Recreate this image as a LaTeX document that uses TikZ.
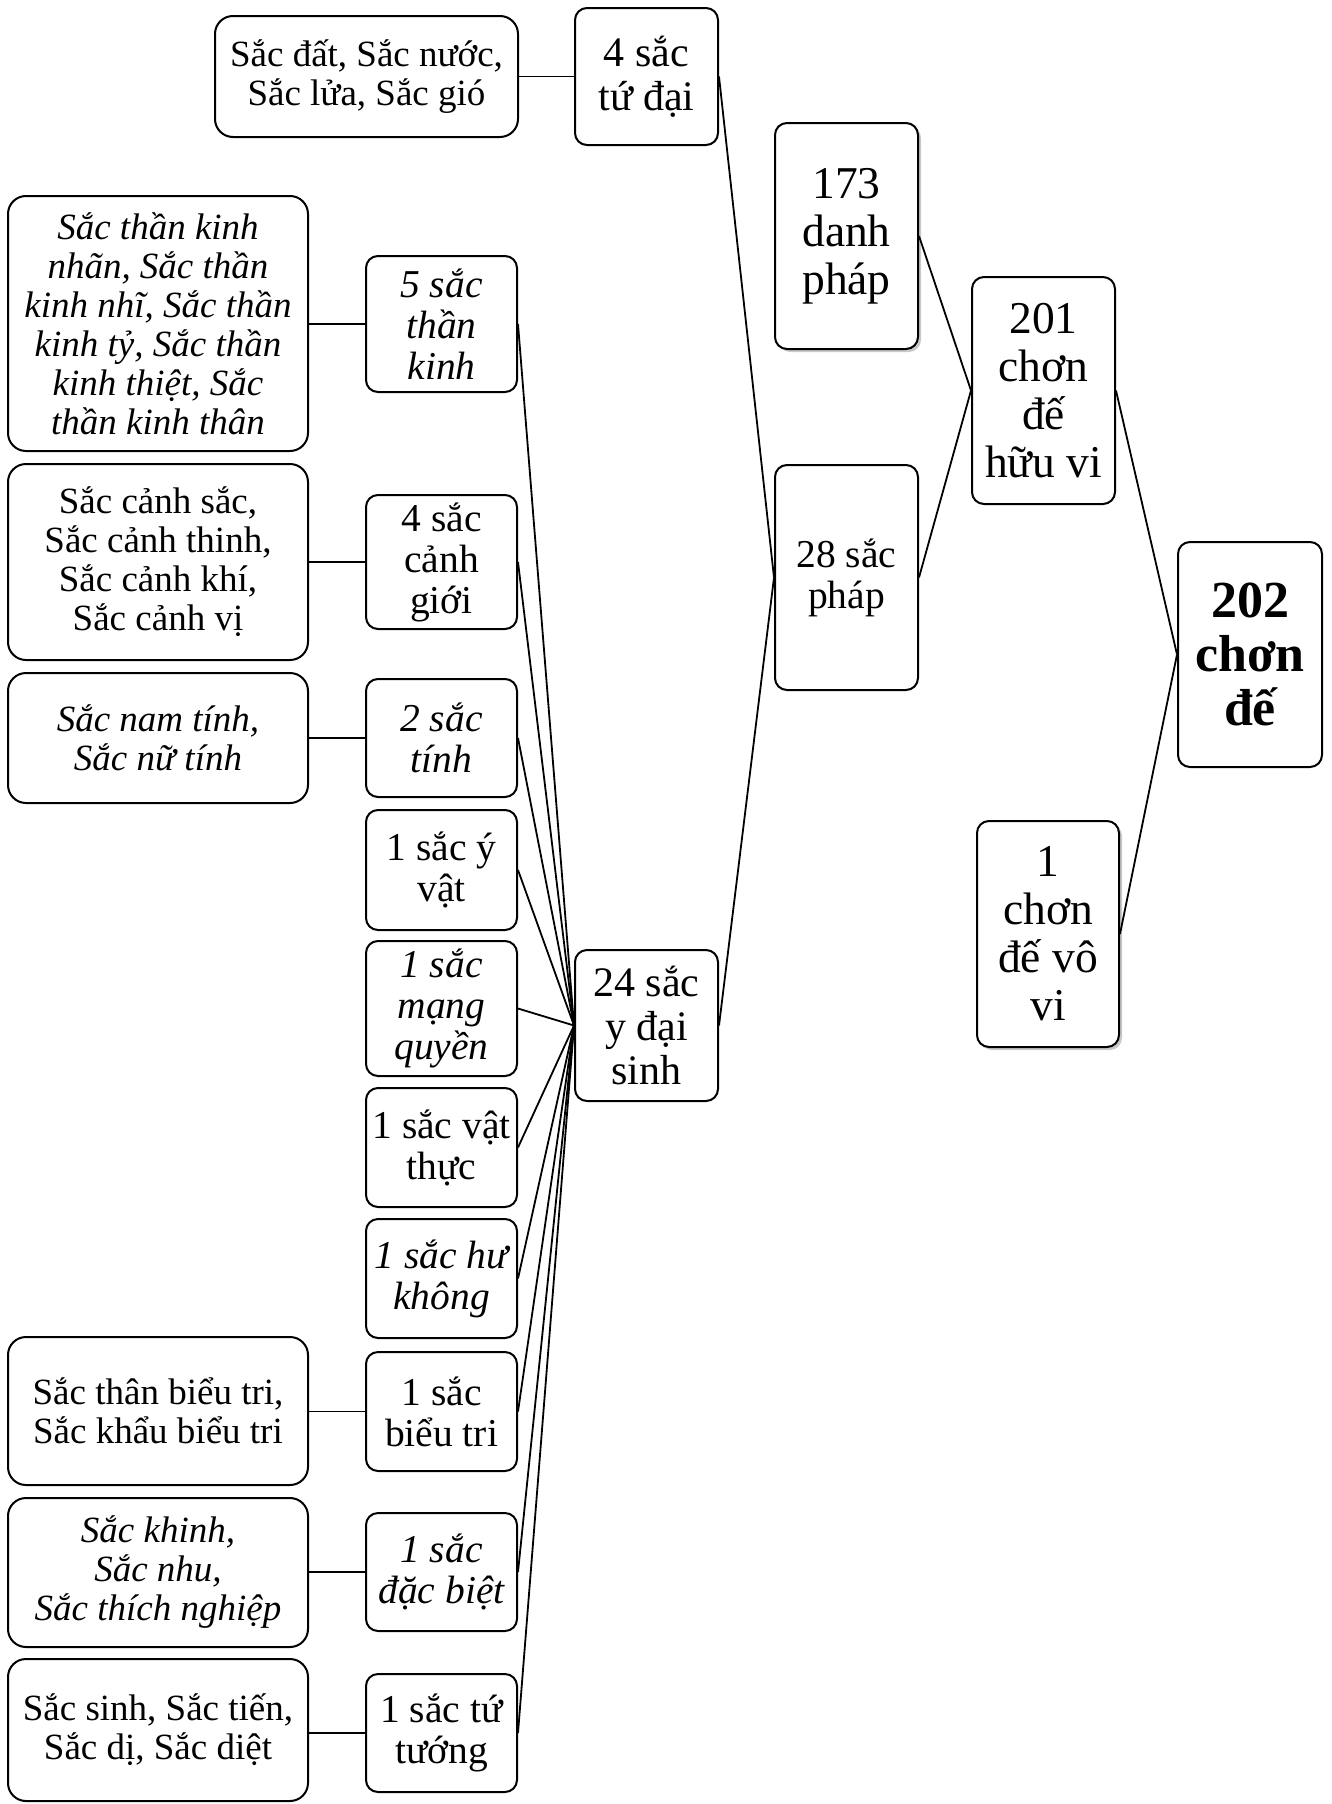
\documentclass[tikz,border=0pt]{standalone}
\usepackage{fontspec}
\setmainfont{Liberation Serif}
\usetikzlibrary{shadows}

\tikzset{
  box/.style={draw, line width=2pt, rounded corners=12pt, fill=white,
              align=center, inner sep=0pt},
  leafbox/.style={box, rounded corners=18pt, minimum width=300pt},
  midbox/.style={box, minimum width=151pt},
  soft/.style={drop shadow={opacity=0.3, shadow xshift=3pt, shadow yshift=-3pt, fill=black!70}},
  slanted/.style={execute at begin node=\itshape},
  link/.style={line width=1.8pt},
  fsleaf/.style={font=\fontsize{37}{39}\selectfont},
  fsmid/.style={font=\fontsize{39.5}{41}\selectfont},
  fsgroup/.style={font=\fontsize{42}{44}\selectfont},
  fsbig/.style={font=\fontsize{45.5}{48}\selectfont},
  fsroot/.style={font=\fontsize{52}{54}\selectfont\bfseries},
}

\begin{document}
\begin{tikzpicture}[x=1pt, y=-1pt]
\useasboundingbox (0,0) rectangle (1331,1804);

% root and top levels
\node[box, fsroot, minimum width=144pt, minimum height=225pt] (root) at (1250,654.5) {202\\chơn\\đế};
\node[box, fsbig, minimum width=143pt, minimum height=227pt] (huuvi) at (1043.5,390.5) {201\\chơn\\đế\\hữu vi};
\node[box, fsbig, soft, minimum width=142pt, minimum height=226pt] (vovi) at (1048,934) {1\\chơn\\đế vô\\vi};
\node[box, fsbig, soft, minimum width=143pt, minimum height=226pt] (danh) at (846.5,236) {173\\danh\\pháp};
\node[box, fsmid, minimum width=143pt, minimum height=225pt] (sacphap) at (846.5,577.5) {28 sắc\\pháp};
\node[box, fsgroup, minimum width=143pt, minimum height=137pt] (tudai) at (646.5,76.5) {4 sắc\\tứ đại};
\node[box, fsgroup, minimum width=143pt, minimum height=151pt] (ydai) at (646.5,1025.5) {24 sắc\\y đại\\sinh};
\node[box, fsleaf, rounded corners=18pt, minimum width=303pt, minimum height=121pt] (tudaiL) at (366.5,76.5) {Sắc đất, Sắc nước,\\Sắc lửa, Sắc gió};

% middle column
\node[midbox, fsmid, slanted, minimum height=136pt] (m1) at (441.5,324) {5 sắc\\thần\\kinh};
\node[midbox, fsmid, minimum height=134pt] (m2) at (441.5,562) {4 sắc\\cảnh\\giới};
\node[midbox, fsmid, slanted, minimum height=118pt] (m3) at (441.5,738) {2 sắc\\tính};
\node[midbox, fsmid, minimum height=120pt] (m4) at (441.5,870) {1 sắc ý\\vật};
\node[midbox, fsmid, slanted, minimum height=135pt] (m5) at (441.5,1008.5) {1 sắc\\mạng\\quyền};
\node[midbox, fsmid, minimum height=119pt] (m6) at (441.5,1147.5) {1 sắc vật\\thực};
\node[midbox, fsmid, slanted, minimum height=119pt] (m7) at (441.5,1278.5) {1 sắc hư\\không};
\node[midbox, fsmid, minimum height=119pt] (m8) at (441.5,1411.5) {1 sắc\\biểu tri};
\node[midbox, fsmid, slanted, minimum height=118pt] (m9) at (441.5,1572) {1 sắc\\đặc biệt};
\node[midbox, fsmid, minimum height=118pt] (m10) at (441.5,1733) {1 sắc tứ\\tướng};

% left column
\node[leafbox, fsleaf, slanted, minimum height=255pt] (l1) at (158,323.5) {Sắc thần kinh\\nhãn, Sắc thần\\kinh nhĩ, Sắc thần\\kinh tỷ, Sắc thần\\kinh thiệt, Sắc\\thần kinh thân};
\node[leafbox, fsleaf, minimum height=196pt] (l2) at (158,562) {Sắc cảnh sắc,\\Sắc cảnh thinh,\\Sắc cảnh khí,\\Sắc cảnh vị};
\node[leafbox, fsleaf, slanted, minimum height=130pt] (l3) at (158,738) {Sắc nam tính,\\Sắc nữ tính};
\node[leafbox, fsleaf, minimum height=148pt] (l4) at (158,1411) {Sắc thân biểu tri,\\Sắc khẩu biểu tri};
\node[leafbox, fsleaf, slanted, minimum height=149pt] (l5) at (158,1572.5) {Sắc khinh,\\Sắc nhu,\\Sắc thích nghiệp};
\node[leafbox, fsleaf, minimum height=142pt] (l6) at (158,1730) {Sắc sinh, Sắc tiến,\\Sắc dị, Sắc diệt};

% connectors
\draw[link] (huuvi.east) -- (root.west);
\draw[link] (vovi.east) -- (root.west);
\draw[link] (danh.east) -- (huuvi.west);
\draw[link] (sacphap.east) -- (huuvi.west);
\draw[link] (tudai.east) -- (sacphap.west);
\draw[link] (ydai.east) -- (sacphap.west);
\draw[link] (tudaiL.east) -- (tudai.west);
\foreach \m in {m1,m2,m3,m4,m5,m6,m7,m8,m9,m10}
  \draw[link] (\m.east) -- (ydai.west);
\draw[link] (m1.west) -- (m1.west -| l1.east);
\draw[link] (m2.west) -- (m2.west -| l2.east);
\draw[link] (m3.west) -- (m3.west -| l3.east);
\draw[link] (m8.west) -- (m8.west -| l4.east);
\draw[link] (m9.west) -- (m9.west -| l5.east);
\draw[link] (m10.west) -- (m10.west -| l6.east);
\end{tikzpicture}
\end{document}
